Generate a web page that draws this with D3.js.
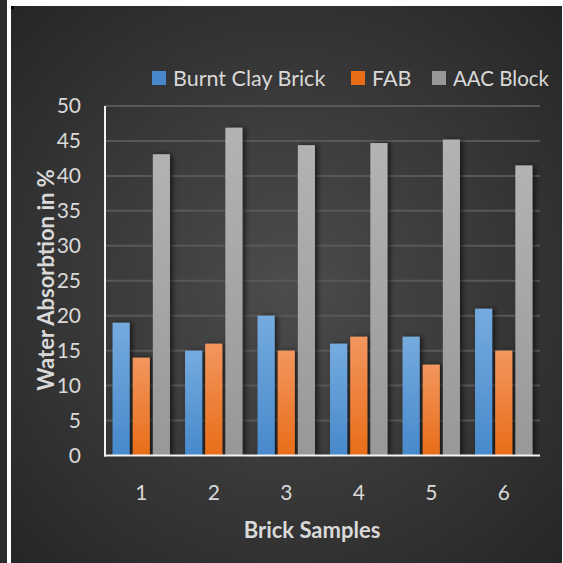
<!DOCTYPE html>
<html>
<head>
<meta charset="utf-8">
<script src="https://cdn.jsdelivr.net/npm/d3@7"></script>
<style>
html,body{margin:0;padding:0;background:#fff;}
svg{display:block;}
text{font-family:Lato,"Open Sans",sans-serif;fill:#d9d9d9;}
</style>
</head>
<body>
<svg id="chart" width="563" height="563"></svg>
<script>
const categories = ["1","2","3","4","5","6"];
const seriesNames = ["Burnt Clay Brick","FAB","AAC Block"];
const burntClay = [19,15,20,16,17,21];
const fab = [14,16,15,17,13,15];
const aac = [43.1,46.9,44.4,44.7,45.2,41.5];
const yTicks = [0,5,10,15,20,25,30,35,40,45,50];

const values = [burntClay, fab, aac];
const svg = d3.select("#chart");
const defs = svg.append("defs");

// background gradient
const bg = defs.append("radialGradient").attr("id","bg").attr("cx","50%").attr("cy","50%").attr("r","70%");
bg.append("stop").attr("offset","0%").attr("stop-color","#4c4c4c");
bg.append("stop").attr("offset","100%").attr("stop-color","#262626");

const barColors = [["#75abdf","#4789cb"],["#f3965f","#e86d18"],["#b3b3b3","#989898"]];
barColors.forEach((c,i)=>{
  const g = defs.append("linearGradient").attr("id","bar"+i).attr("x1",0).attr("y1",0).attr("x2",0).attr("y2",1);
  g.append("stop").attr("offset","0%").attr("stop-color",c[0]);
  g.append("stop").attr("offset","100%").attr("stop-color",c[1]);
});
const f = defs.append("filter").attr("id","shadow").attr("x","-20%").attr("y","-10%").attr("width","160%").attr("height","120%");
f.append("feDropShadow").attr("dx",3).attr("dy",0).attr("stdDeviation",2.5).attr("flood-color","#000").attr("flood-opacity",0.55);

// frame
svg.append("rect").attr("x",0).attr("y",0).attr("width",7).attr("height",563).attr("fill","#2b2b2b");
svg.append("rect").attr("x",11).attr("y",6).attr("width",551).attr("height",557).attr("fill","url(#bg)");
svg.append("rect").attr("x",11).attr("y",6).attr("width",3).attr("height",3).attr("fill","#000");

const x0 = d3.scaleBand().domain(categories).range([105,540]).padding(0);
const step = x0.bandwidth();
const x1 = d3.scaleBand().domain(seriesNames).range([step*7.5/72, step*64.5/72]).paddingInner(0.15).paddingOuter(0);
const y = d3.scaleLinear().domain([0,50]).range([455.5,106]);

// gridlines
svg.append("g").selectAll("line").data(yTicks.filter(d=>d>0)).join("line")
  .attr("x1",105).attr("x2",540).attr("y1",d=>y(d)).attr("y2",d=>y(d))
  .attr("stroke","#585858").attr("stroke-width",2);

// bars
const groups = svg.append("g").selectAll("g").data(categories).join("g")
  .attr("transform",d=>`translate(${x0(d)},0)`);
groups.selectAll("rect").data((d,i)=>seriesNames.map((s,j)=>({s,j,v:values[j][i]}))).join("rect")
  .attr("x",d=>x1(d.s)).attr("width",x1.bandwidth())
  .attr("y",d=>y(d.v)).attr("height",d=>y(0)-y(d.v))
  .attr("fill",d=>`url(#bar${d.j})`).attr("filter","url(#shadow)");

// axes lines
svg.append("line").attr("x1",105).attr("x2",105).attr("y1",106).attr("y2",456.5).attr("stroke","#f2f2f2").attr("stroke-width",2);
svg.append("line").attr("x1",104).attr("x2",540).attr("y1",455.5).attr("y2",455.5).attr("stroke","#f2f2f2").attr("stroke-width",2);

// y tick labels
const yAxis = d3.axisLeft(y).tickValues(yTicks).tickSize(0).tickPadding(0);
const ya = svg.append("g").attr("transform","translate(81,0)").call(yAxis);
ya.select(".domain").remove();
ya.selectAll("text").attr("font-size",21).attr("fill","#d9d9d9").attr("font-family","Lato");

// x tick labels
const xAxis = d3.axisBottom(x0).tickSize(0).tickPadding(0);
const xa = svg.append("g").attr("transform","translate(0,485)").call(xAxis);
xa.select(".domain").remove();
xa.selectAll("text").attr("font-size",21).attr("fill","#d9d9d9").attr("font-family","Lato");

// axis titles
svg.append("text").attr("x",312).attr("y",538).attr("text-anchor","middle")
  .attr("font-size",22).attr("font-weight","bold").text("Brick Samples");
svg.append("text").attr("transform","translate(54,280) rotate(-90)").attr("text-anchor","middle")
  .attr("font-size",22).attr("font-weight","bold").text("Water Absorbtion in %");

// legend
const legendX = [152,351,432];
const lg = svg.append("g").selectAll("g").data(seriesNames).join("g")
  .attr("transform",(d,i)=>`translate(${legendX[i]},0)`);
lg.append("rect").attr("x",0).attr("y",71).attr("width",14).attr("height",14).attr("fill",(d,i)=>barColors[i][1]);
lg.append("text").attr("x",21).attr("y",86).attr("font-size",21.5)
  .attr("textLength",(d,i)=>i===2?96:null).attr("lengthAdjust","spacingAndGlyphs").text(d=>d);
</script>
</body>
</html>
